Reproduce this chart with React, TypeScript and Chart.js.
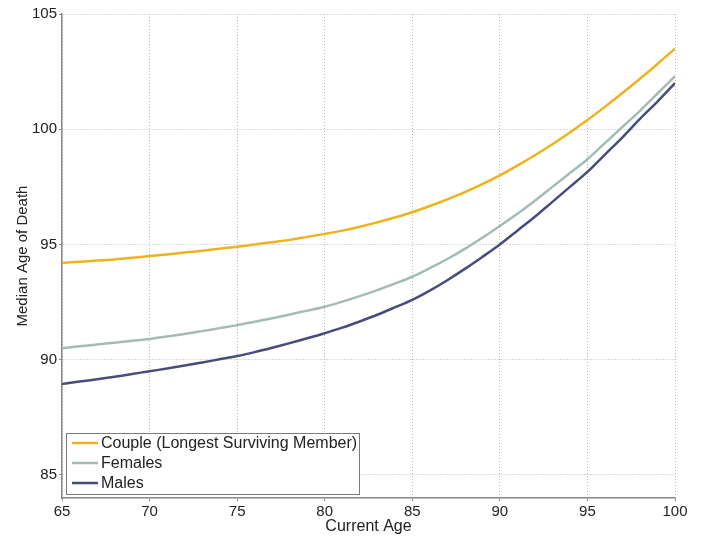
import React, { useEffect, useRef } from "react";
import { Chart, registerables } from "chart.js";

Chart.register(...registerables);

const ages = [65,66,67,68,69,70,71,72,73,74,75,76,77,78,79,80,81,82,83,84,85,86,87,88,89,90,91,92,93,94,95,96,97,98,99,100];
const couple = [94.2,94.25,94.3,94.35,94.42,94.5,94.57,94.65,94.73,94.82,94.9,95.0,95.1,95.2,95.33,95.46,95.6,95.77,95.96,96.17,96.4,96.67,96.96,97.27,97.62,98.0,98.42,98.87,99.35,99.86,100.4,100.97,101.57,102.19,102.83,103.5];
const females = [90.5,90.58,90.66,90.74,90.82,90.9,91.01,91.12,91.24,91.37,91.5,91.65,91.8,91.96,92.13,92.3,92.52,92.76,93.02,93.3,93.6,93.97,94.37,94.81,95.29,95.8,96.33,96.9,97.5,98.1,98.7,99.4,100.1,100.8,101.55,102.3];
const males = [88.95,89.05,89.15,89.26,89.38,89.5,89.62,89.75,89.88,90.02,90.16,90.33,90.52,90.72,90.93,91.15,91.39,91.66,91.95,92.27,92.6,93.0,93.45,93.94,94.46,95.0,95.6,96.2,96.85,97.5,98.15,98.9,99.65,100.45,101.2,102.0];
const seriesLabels = ["Couple (Longest Surviving Member)", "Females", "Males"];
const xTicks = [65, 70, 75, 80, 85, 90, 95, 100];
const yTicks = [85, 90, 95, 100, 105];

const FONT = "'Liberation Sans', Arial, Helvetica, sans-serif";
const colors = ["#EEB31C", "#A4BBB5", "#474D7B"];

const legendPlugin = {
  id: "boxLegend",
  afterDraw(chart: any) {
    const ctx = chart.ctx;
    const x0 = chart.chartArea.left + 4;
    const y0 = chart.chartArea.bottom - 65;
    const w = 293;
    const h = 61;
    ctx.save();
    ctx.fillStyle = "#ffffff";
    ctx.fillRect(x0, y0, w, h);
    ctx.strokeStyle = "#7a7a7a";
    ctx.lineWidth = 1;
    ctx.strokeRect(x0 + 0.5, y0 + 0.5, w, h);
    ctx.font = `16px ${FONT}`;
    ctx.textBaseline = "middle";
    chart.data.datasets.forEach((ds: any, i: number) => {
      const yy = y0 + 10 + i * 20;
      ctx.strokeStyle = ds.borderColor;
      ctx.lineWidth = 2.5;
      ctx.beginPath();
      ctx.moveTo(x0 + 6, yy);
      ctx.lineTo(x0 + 32, yy);
      ctx.stroke();
      ctx.fillStyle = "#222222";
      ctx.fillText(ds.label, x0 + 35, yy + 1);
    });
    ctx.restore();
  },
};

export default function App() {
  const ref = useRef<HTMLCanvasElement>(null);
  useEffect(() => {
    document.body.style.margin = "0";
    const data = [couple, females, males];
    const chart = new Chart(ref.current as HTMLCanvasElement, {
      type: "line",
      data: {
        datasets: data.map((vals, i) => ({
          label: seriesLabels[i],
          data: ages.map((a, j) => ({ x: a, y: vals[j] })),
          borderColor: colors[i],
          backgroundColor: colors[i],
          borderWidth: 2.5,
          pointRadius: 0,
          tension: 0.3,
          fill: false,
        })),
      },
      options: {
        animation: false,
        responsive: false,
        maintainAspectRatio: false,
        layout: { padding: { left: 0, right: 27, top: 14, bottom: 0 } },
        plugins: { legend: { display: false }, tooltip: { enabled: false } },
        scales: {
          x: {
            type: "linear",
            min: 65,
            max: 100,
            afterBuildTicks: (s: any) => { s.ticks = xTicks.map((v) => ({ value: v })); },
            afterFit: (s: any) => { s.height = 38; },
            ticks: { font: { family: FONT, size: 15 }, color: "#222", padding: 2 },
            grid: { color: "#b8b8b8", tickLength: 3, tickColor: "#888" },
            border: { display: true, color: "#888", width: 1.5, dash: [1, 2] },
            title: { display: true, text: "Current Age", font: { family: FONT, size: 16 }, color: "#222", padding: { top: 0, bottom: 0 } },
          },
          y: {
            type: "linear",
            min: 84,
            max: 105,
            afterBuildTicks: (s: any) => { s.ticks = yTicks.map((v) => ({ value: v })); },
            afterFit: (s: any) => { s.width = 62; },
            ticks: { font: { family: FONT, size: 15 }, color: "#222", padding: 2 },
            grid: { color: "#b8b8b8", tickLength: 3, tickColor: "#888" },
            border: { display: true, color: "#888", width: 1.5, dash: [1, 2] },
            title: { display: true, text: "Median Age of Death", font: { family: FONT, size: 15 }, color: "#222", padding: { top: 14, bottom: 0 } },
          },
        },
      },
      plugins: [legendPlugin],
    } as any);
    return () => chart.destroy();
  }, []);
  return (
    <div style={{ position: "absolute", left: 0, top: 0, width: 702, height: 536, background: "#fff" }}>
      <canvas ref={ref} width={702} height={536} style={{ width: 702, height: 536 }} />
    </div>
  );
}
